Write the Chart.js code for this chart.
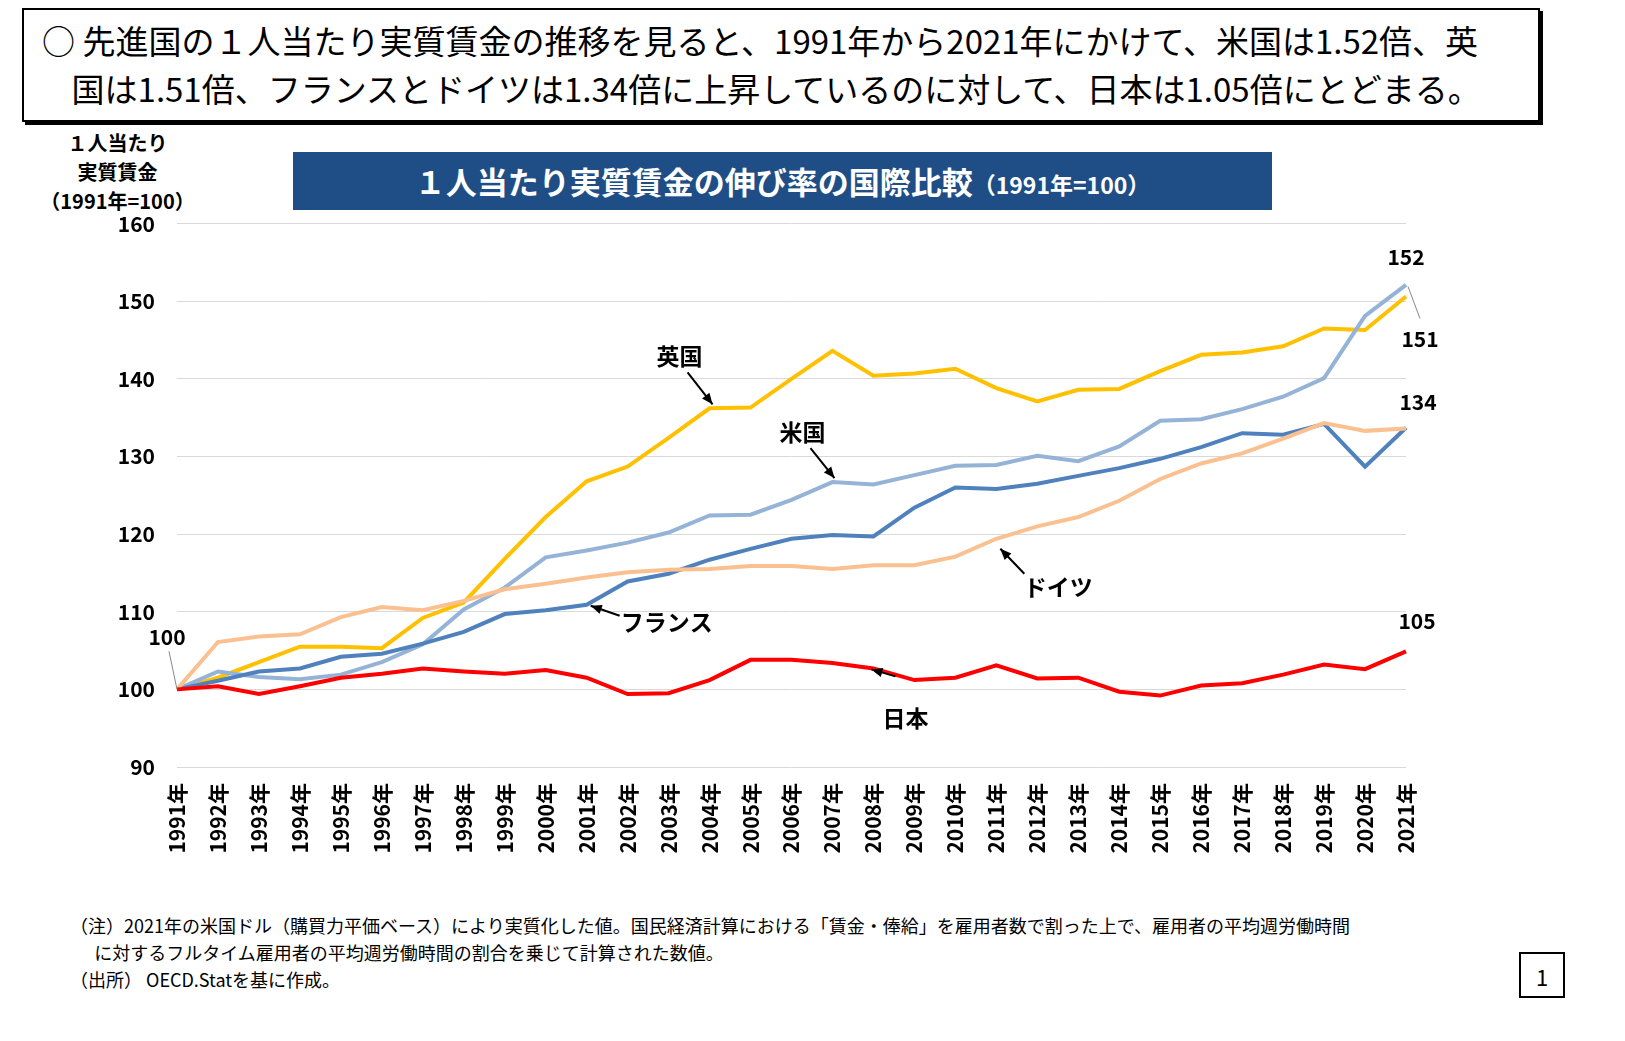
<!DOCTYPE html>
<html><head><meta charset="utf-8">
<script src="https://cdn.jsdelivr.net/npm/chart.js@4"></script>
<style>
body{margin:0;background:#fff;width:1625px;height:1041px;position:relative;overflow:hidden;font-family:"Noto Sans CJK JP",sans-serif;}
#hdr{position:absolute;left:22px;top:8px;width:1518px;height:114px;border:2px solid #000;box-shadow:3px 3px 0 #000;box-sizing:border-box;font-size:33px;line-height:48px;padding:6px 0 0 18px;color:#000;white-space:nowrap;}
#ttl{position:absolute;left:293px;top:152px;width:979px;height:58px;background:#1F4E86;color:#fff;font-weight:bold;font-size:31px;line-height:58px;text-align:center;}
#ttl small{font-size:23px;}
#yl{position:absolute;left:25px;top:128px;width:185px;text-align:center;font-weight:bold;font-size:20px;line-height:29px;}
#note{position:absolute;left:70px;top:912px;font-size:18px;line-height:27px;white-space:nowrap;}
#pg{position:absolute;left:1519px;top:952px;width:46px;height:46px;border:2px solid #000;box-sizing:border-box;font-size:22px;text-align:center;line-height:44px;}
#wrap{position:absolute;left:90px;top:189px;width:1360px;height:690px;}
</style></head><body>
<div id="hdr">○ 先進国の１人当たり実質賃金の推移を見ると、1991年から2021年にかけて、米国は1.52倍、英<br>&nbsp;&nbsp;&nbsp;&nbsp;国は1.51倍、フランスとドイツは1.34倍に上昇しているのに対して、日本は1.05倍にとどまる。</div>
<div id="yl">１人当たり<br>実質賃金<br>（1991年=100）</div>
<div id="ttl">１人当たり実質賃金の伸び率の国際比較<small>（1991年=100）</small></div>
<div id="wrap"><canvas id="c"></canvas></div>
<div id="note">（注）2021年の米国ドル（購買力平価ベース）により実質化した値。国民経済計算における「賃金・俸給」を雇用者数で割った上で、雇用者の平均週労働時間<br>&nbsp;&nbsp;&nbsp;&nbsp;&nbsp;&nbsp;に対するフルタイム雇用者の平均週労働時間の割合を乗じて計算された数値。<br>（出所） OECD.Statを基に作成。</div>
<div id="pg">1</div>
<script>
const years = ["1991年","1992年","1993年","1994年","1995年","1996年","1997年","1998年","1999年","2000年","2001年","2002年","2003年","2004年","2005年","2006年","2007年","2008年","2009年","2010年","2011年","2012年","2013年","2014年","2015年","2016年","2017年","2018年","2019年","2020年","2021年"];
const uk = [100,101.5,103.5,105.5,105.5,105.3,109.2,111.2,116.8,122.2,126.8,128.7,132.4,136.2,136.3,140.0,143.6,140.4,140.7,141.3,138.8,137.1,138.6,138.7,141.0,143.1,143.4,144.2,146.5,146.3,150.6];
const us = [100,102.3,101.6,101.3,101.9,103.5,105.8,110.3,113.1,117.0,117.9,118.9,120.2,122.4,122.5,124.4,126.7,126.4,127.6,128.8,128.9,130.1,129.4,131.3,134.6,134.8,136.1,137.7,140.1,148.1,152.1];
const france = [100,101.1,102.3,102.7,104.2,104.6,105.9,107.4,109.7,110.2,110.9,113.9,114.9,116.7,118.1,119.4,119.9,119.7,123.4,126.0,125.8,126.5,127.5,128.5,129.7,131.2,133.0,132.8,134.2,128.7,133.7];
const germany = [100,106.1,106.8,107.1,109.3,110.6,110.2,111.4,112.9,113.6,114.4,115.1,115.4,115.5,115.9,115.9,115.5,116.0,116.0,117.1,119.4,121.0,122.2,124.3,127.1,129.1,130.4,132.3,134.3,133.3,133.6];
const japan = [100,100.4,99.4,100.4,101.5,102.0,102.7,102.3,102.0,102.5,101.5,99.4,99.5,101.2,103.8,103.8,103.4,102.7,101.2,101.5,103.1,101.4,101.5,99.7,99.2,100.5,100.8,101.9,103.2,102.6,104.9];
const yTicks = [90,100,110,120,130,140,150,160];

const F = '"Noto Sans CJK JP", sans-serif';
function arrow(ctx,x1,y1,x2,y2){
  ctx.beginPath();ctx.moveTo(x1,y1);ctx.lineTo(x2,y2);ctx.stroke();
  const a=Math.atan2(y2-y1,x2-x1),L=12;
  ctx.beginPath();ctx.moveTo(x2,y2);
  ctx.lineTo(x2-L*Math.cos(a-0.4),y2-L*Math.sin(a-0.4));
  ctx.lineTo(x2-L*Math.cos(a+0.4),y2-L*Math.sin(a+0.4));ctx.closePath();ctx.fill();
}
const annot = {id:'annot',afterDatasetsDraw(ch){
  const ctx=ch.ctx,x=ch.scales.x,y=ch.scales.y;
  const P=(i,v)=>[x.getPixelForValue(i),y.getPixelForValue(v)];
  ctx.save();ctx.fillStyle='#000';ctx.strokeStyle='#000';ctx.lineWidth=2;
  ctx.font='bold 23px '+F;ctx.textAlign='center';ctx.textBaseline='middle';
  let p=P(13,uk[13]);ctx.fillText('英国',p[0]-30,p[1]-52);arrow(ctx,p[0]-22,p[1]-36,p[0]+3,p[1]-4);
  p=P(16,us[16]);ctx.fillText('米国',p[0]-30,p[1]-50);arrow(ctx,p[0]-22,p[1]-34,p[0]+2,p[1]-4);
  p=P(10,france[10]);ctx.fillText('フランス',p[0]+80,p[1]+18);arrow(ctx,p[0]+33,p[1]+11,p[0]+4,p[1]+1);
  p=P(20,germany[20]);ctx.fillText('ドイツ',p[0]+62,p[1]+48);arrow(ctx,p[0]+28,p[1]+35,p[0]+4,p[1]+10);
  p=P(17,japan[17]);ctx.fillText('日本',p[0]+32,p[1]+50);arrow(ctx,p[0]+22,p[1]+8,p[0]-2,p[1]+1);
  ctx.font='bold 21px '+F;
  p=P(0,100);ctx.fillText('100',p[0]-10,p[1]-52);
  ctx.strokeStyle='#888';ctx.lineWidth=1;ctx.beginPath();ctx.moveTo(p[0]-8,p[1]-38);ctx.lineTo(p[0],p[1]);ctx.stroke();
  p=P(30,us[30]);ctx.fillText('152',p[0],p[1]-28);
  p=P(30,uk[30]);ctx.fillText('151',p[0]+14,p[1]+42);
  ctx.beginPath();ctx.moveTo(p[0]+2,p[1]-10);ctx.lineTo(p[0]+14,p[1]+22);ctx.stroke();
  p=P(30,france[30]);ctx.fillText('134',p[0]+12,p[1]-26);
  p=P(30,japan[30]);ctx.fillText('105',p[0]+11,p[1]-30);
  ctx.restore();
}};
const ds=(d,c)=>({data:d,borderColor:c,borderWidth:4,pointRadius:0,tension:0,fill:false});
new Chart(document.getElementById('c'),{type:'line',
  data:{labels:years,datasets:[ds(japan,'#FF0000'),ds(germany,'#FAC090'),ds(france,'#4F81BD'),ds(us,'#95B3D7'),ds(uk,'#FFC000')]},
  options:{responsive:true,maintainAspectRatio:false,animation:false,
    layout:{padding:{top:14,right:44,bottom:0,left:0}},
    plugins:{legend:{display:false},tooltip:{enabled:false}},
    scales:{
      y:{min:90,max:160,afterBuildTicks:s=>{s.ticks=yTicks.map(v=>({value:v}));},afterFit:s=>{s.width=87;},
        grid:{color:'#D9D9D9',lineWidth:1,drawTicks:false},border:{display:false},
        ticks:{color:'#000',font:{family:F,weight:'bold',size:21},padding:22}},
      x:{offset:false,afterFit:s=>{s.height=112;},grid:{display:false},border:{display:false},
        ticks:{color:'#000',font:{family:F,weight:'bold',size:21},minRotation:90,maxRotation:90,autoSkip:false,padding:8}}
    }},
  plugins:[annot]});
</script>
</body></html>
